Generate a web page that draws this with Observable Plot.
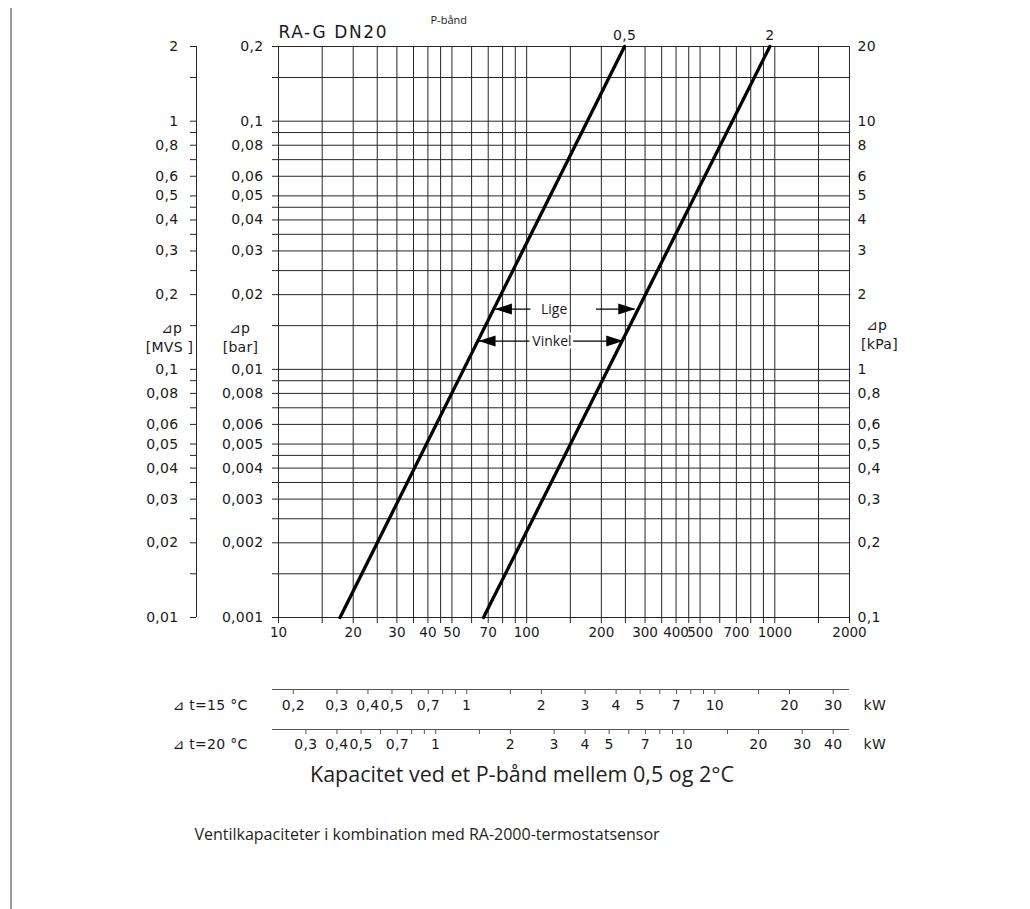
<!DOCTYPE html>
<html><head><meta charset="utf-8">
<script src="https://cdn.jsdelivr.net/npm/d3@7"></script>
<script src="https://cdn.jsdelivr.net/npm/@observablehq/plot@0.6"></script>
<style>
body{margin:0;background:#fff}
#wrap{position:relative;width:1030px;height:909px;overflow:hidden;background:#fff}
#wrap svg{position:absolute;left:0;top:0}
#border{position:absolute;left:10px;top:8px;width:2px;height:901px;background:#9a9a9a}
svg g[font-family="Open Sans"]{letter-spacing:0}
svg g[font-size="17"]{letter-spacing:1.6px}
svg g[font-size="13.5"]{letter-spacing:0}
</style></head><body><div id="wrap"></div>
<script>
// ---- data ----
const xGrid = [10,15,20,25,30,35,40,45,50,60,70,80,90,100,150,200,250,300,350,400,450,500,600,700,800,900,1000,1500,2000];
const xLabels = [10,20,30,40,50,70,100,200,300,400,500,700,1000,2000];
const yGrid = [0.001,0.0015,0.002,0.0025,0.003,0.0035,0.004,0.0045,0.005,0.006,0.007,0.008,0.009,
  0.01,0.015,0.02,0.025,0.03,0.035,0.04,0.045,0.05,0.06,0.07,0.08,0.09,0.1,0.15,0.2];
const barLabels = [0.001,0.002,0.003,0.004,0.005,0.006,0.008,0.01,0.02,0.03,0.04,0.05,0.06,0.08,0.1,0.2];
const axisTitleTop = ["⊿p"];
const axisUnits = ["[MVS ]", "[bar]", "[kPa]"];

// P-band curves: flow (kg/h) vs pressure drop (bar)
const band05Flow = [17.7, 248];
const band05Dp = [0.001, 0.2];
const band2Flow = [67, 955];
const band2Dp = [0.001, 0.2];

// arrow annotations
const arrowLabels = ["Lige", "Vinkel"];
const arrowDp = [0.0175, 0.013];
const arrowLeftTip = [74.5, 64];
const arrowLeftEnd = [104, 103];
const arrowTextFlow = [129, 126.5];
const arrowRightStart = [191, 154];
const arrowRightTip = [274, 245];

// capacity scales (kW)
const kw15Ticks = [0.2,0.3,0.4,0.5,0.6,0.7,0.8,0.9,1,1.5,2,3,4,5,6,7,8,9,10,15,20,30];
const kw15Labels = [0.2,0.3,0.4,0.5,0.7,1,2,3,4,5,7,10,20,30];
const kw20Ticks = [0.3,0.4,0.5,0.6,0.7,0.8,0.9,1,1.5,2,3,4,5,6,7,8,9,10,15,20,30,40];
const kw20Labels = [0.3,0.4,0.5,0.7,1,2,3,4,5,7,10,20,30,40];
const cWater = 4.186;
const toFlow = (kw, dt) => kw * 3600 / (cWater * dt);

// ---- derived tables ----
const fmt = v => String(+(+v).toPrecision(6)).replace(".", ",");
const curves = [
  ...band05Flow.map((q, i) => ({band: "0,5", q, dp: band05Dp[i]})),
  ...band2Flow.map((q, i) => ({band: "2", q, dp: band2Dp[i]}))
];
const curveTops = [
  {label: "0,5", q: band05Flow[band05Flow.length - 1], dp: band05Dp[band05Dp.length - 1]},
  {label: "2", q: band2Flow[band2Flow.length - 1], dp: band2Dp[band2Dp.length - 1]}
];
const arrows = arrowLabels.map((label, i) => ({
  label, dp: arrowDp[i], lt: arrowLeftTip[i], le: arrowLeftEnd[i],
  tq: arrowTextFlow[i], rs: arrowRightStart[i], rt: arrowRightTip[i]
}));
const headLeft = {draw(c) { c.moveTo(0, 0); c.lineTo(17, -5.5); c.lineTo(17, 5.5); c.closePath(); }};
const headRight = {draw(c) { c.moveTo(0, 0); c.lineTo(-17, -5.5); c.lineTo(-17, 5.5); c.closePath(); }};

const G = "#262626";
const T = "#1a1a1a";
const chart = Plot.plot({
  width: 1030, height: 909,
  marginLeft: 278, marginRight: 181, marginTop: 46, marginBottom: 292,
  x: {type: "log", domain: [10, 2000], axis: null},
  y: {type: "log", domain: [0.001, 0.2], axis: null},
  style: {fontFamily: "DejaVu Sans", fontSize: "14px", letterSpacing: "0.3px", background: "transparent", color: T, overflow: "visible"},
  marks: [
    Plot.ruleX(xGrid, {insetBottom: -6, stroke: G, strokeWidth: 1}),
    Plot.ruleY(yGrid, {insetLeft: -6, stroke: G, strokeWidth: 1}),
    // MVS axis
    Plot.ruleX([xGrid[0]], {dx: -82, stroke: G}),
    Plot.axisY({ticks: yGrid, anchor: "left", dx: -82, tickSize: 6, tickFormat: () => "", label: null, stroke: G}),
    Plot.text(barLabels, {y: d => d, frameAnchor: "left", dx: -100, textAnchor: "end", text: d => fmt(d * 10), fill: T}),
    // bar labels
    Plot.text(barLabels, {y: d => d, frameAnchor: "left", dx: -15, textAnchor: "end", text: d => fmt(d), fill: T}),
    // kPa labels
    Plot.text(barLabels, {y: d => d, frameAnchor: "right", dx: 8, textAnchor: "start", text: d => fmt(d * 100), fill: T}),
    // axis titles
    Plot.text(axisTitleTop, {text: d => d, frameAnchor: "top-left", textAnchor: "middle", dx: -107, dy: 277, fill: T}),
    Plot.text([axisUnits[0]], {text: d => d, frameAnchor: "top-left", textAnchor: "middle", dx: -109, dy: 296, fill: T}),
    Plot.text(axisTitleTop, {text: d => d, frameAnchor: "top-left", textAnchor: "middle", dx: -39, dy: 277, fill: T}),
    Plot.text([axisUnits[1]], {text: d => d, frameAnchor: "top-left", textAnchor: "middle", dx: -38, dy: 296, fill: T}),
    Plot.text(axisTitleTop, {text: d => d, frameAnchor: "top-right", textAnchor: "middle", dx: 27, dy: 274, fill: T}),
    Plot.text([axisUnits[2]], {text: d => d, frameAnchor: "top-right", textAnchor: "middle", dx: 30, dy: 293, fill: T}),
    // x labels
    Plot.text(xLabels, {x: d => d, frameAnchor: "bottom", dy: 19, text: d => fmt(d), fontSize: 13.5, fill: T}),
    // curves
    Plot.line(curves, {x: "q", y: "dp", z: "band", stroke: "#000", strokeWidth: 3.3}),
    Plot.text(curveTops, {x: "q", y: "dp", text: "label", dy: -11, fill: T}),
    // arrows
    Plot.ruleY(arrows, {y: "dp", x1: "lt", x2: "le", stroke: "#000", strokeWidth: 1.2}),
    Plot.ruleY(arrows, {y: "dp", x1: "rs", x2: "rt", stroke: "#000", strokeWidth: 1.2}),
    Plot.dot(arrows, {x: "lt", y: "dp", symbol: headLeft, fill: "#000"}),
    Plot.dot(arrows, {x: "rt", y: "dp", symbol: headRight, fill: "#000"}),
    Plot.text(arrows, {x: "tq", y: "dp", text: "label", fontFamily: "Open Sans", fontSize: 14, fill: T, stroke: "white", strokeWidth: 5, paintOrder: "stroke"}),
    // title
    Plot.text(["RA-G DN20"], {text: d => d, frameAnchor: "top-left", dy: -21, textAnchor: "start", fontSize: 17, fill: T}),
    Plot.text(["P-bånd"], {text: d => d, frameAnchor: "top-left", dx: 152, dy: -30, textAnchor: "start", fontFamily: "Open Sans", fontSize: 11, fill: T}),
    // capacity scales
    Plot.ruleY([yGrid[0]], {dy: 72, insetLeft: -6, stroke: "#555"}),
    Plot.axisX({ticks: kw15Ticks.map(k => toFlow(k, 15)), anchor: "bottom", dy: 72, tickSize: 5, tickFormat: () => "", label: null, stroke: "#555"}),
    Plot.text(kw15Labels, {x: k => toFlow(k, 15), frameAnchor: "bottom", dy: 92, text: d => fmt(d), fill: T}),
    Plot.ruleY([yGrid[0]], {dy: 112, insetLeft: -6, stroke: "#555"}),
    Plot.axisX({ticks: kw20Ticks.map(k => toFlow(k, 20)), anchor: "bottom", dy: 112, tickSize: 5, tickFormat: () => "", label: null, stroke: "#555"}),
    Plot.text(kw20Labels, {x: k => toFlow(k, 20), frameAnchor: "bottom", dy: 131, text: d => fmt(d), fill: T}),
    Plot.text(["⊿ t=15 °C"], {text: d => d, frameAnchor: "bottom-left", dx: -106, dy: 92, textAnchor: "start", fill: T}),
    Plot.text(["⊿ t=20 °C"], {text: d => d, frameAnchor: "bottom-left", dx: -106, dy: 131, textAnchor: "start", fill: T}),
    Plot.text(["kW"], {text: d => d, frameAnchor: "bottom-right", dx: 14, dy: 92, textAnchor: "start", fill: T}),
    Plot.text(["kW"], {text: d => d, frameAnchor: "bottom-right", dx: 14, dy: 131, textAnchor: "start", fill: T}),
    // captions
    Plot.text(["Kapacitet ved et P-bånd mellem 0,5 og 2°C"], {text: d => d, frameAnchor: "bottom", textAnchor: "middle", dx: -42, dy: 164, fontFamily: "Open Sans", fontSize: 21.5, fill: "#231f20"}),
    Plot.text(["Ventilkapaciteter i kombination med RA-2000-termostatsensor"], {text: d => d, frameAnchor: "bottom", textAnchor: "middle", dx: -137, dy: 222, fontFamily: "Open Sans", fontSize: 16, fill: "#231f20"})
  ]
});
const wrap = document.getElementById("wrap");
wrap.appendChild(chart);
const b = document.createElement("div"); b.id = "border"; wrap.appendChild(b);
</script></body></html>
